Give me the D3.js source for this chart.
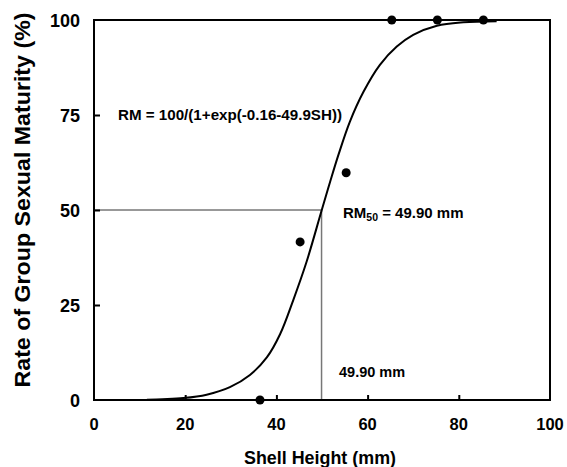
<!DOCTYPE html>
<html><head><meta charset="utf-8">
<script src="https://cdn.jsdelivr.net/npm/d3@7"></script>
<style>
html,body{margin:0;padding:0;background:#fff;}
svg{display:block;font-family:"Liberation Sans",Arial,sans-serif;font-weight:bold;}
</style></head>
<body>
<svg id="chart" width="567" height="467"></svg>
<script>
// Observed data points
const obsHeight = [36.4, 45.2, 55.3, 65.3, 75.3, 85.4];
const obsRate   = [0, 41.6, 59.8, 100, 100, 100];
// Fitted curve
const curveHeight = [11.6, 15, 19.6, 24.7, 29.8, 34.2, 37.9, 40.8, 43.7, 46.6, 49.9, 51.8, 53.6, 56.1, 59.1, 62.7, 66.4, 70.0, 75.2, 81.0, 88.3];
const curveRate   = [0.05, 0.2, 0.5, 1.4, 3.4, 6.6, 11.2, 17.3, 26.3, 36.3, 49.8, 57.5, 64.5, 73.2, 81.1, 88.2, 93.0, 96.1, 98.5, 99.4, 99.7];
const xTicks = [0, 20, 40, 60, 80, 100];
const yTicks = [0, 25, 50, 75, 100];
const rm50 = 49.9;
const equationText = "RM = 100/(1+exp(-0.16-49.9SH))";
const rm50Label = "49.90 mm";

const svg = d3.select("#chart");
const L = 94, R = 550, T = 20, B = 400;
const x = d3.scaleLinear().domain([0, 100]).range([L, R]);
const y = d3.scaleLinear().domain([0, 100]).range([B, T]);

// reference lines
svg.append("line").attr("x1", x(0)).attr("x2", x(rm50)).attr("y1", y(50)).attr("y2", y(50))
  .attr("stroke", "#333").attr("stroke-width", 1);
svg.append("line").attr("x1", x(rm50)).attr("x2", x(rm50)).attr("y1", y(50)).attr("y2", y(0))
  .attr("stroke", "#777").attr("stroke-width", 1.5);

// curve
const pts = curveHeight.map((h, i) => [h, curveRate[i]]);
svg.append("path").datum(pts)
  .attr("d", d3.line().x(d => x(d[0])).y(d => y(d[1])).curve(d3.curveCatmullRom.alpha(0.5)))
  .attr("fill", "none").attr("stroke", "#000").attr("stroke-width", 2);

// frame
svg.append("rect").attr("x", L).attr("y", T).attr("width", R - L).attr("height", B - T)
  .attr("fill", "none").attr("stroke", "#000").attr("stroke-width", 2);

// axes with inward ticks
const xAxis = d3.axisBottom(x).tickValues(xTicks.filter(v => v > 0 && v < 100)).tickSize(-5).tickFormat("");
const gx = svg.append("g").attr("transform", `translate(0,${B})`).call(xAxis);
gx.select(".domain").remove();
gx.selectAll("line").attr("stroke", "#000").attr("stroke-width", 2);
const yAxis = d3.axisLeft(y).tickValues(yTicks.filter(v => v > 0 && v < 100)).tickSize(-6).tickFormat("");
const gy = svg.append("g").attr("transform", `translate(${L},0)`).call(yAxis);
gy.select(".domain").remove();
gy.selectAll("line").attr("stroke", "#000").attr("stroke-width", 2);

// tick labels
svg.append("g").selectAll("text").data(xTicks).join("text")
  .attr("x", d => x(d)).attr("y", 430).attr("text-anchor", "middle")
  .attr("font-size", 16.5).attr("fill", "#000").text(d => d);
svg.append("g").selectAll("text").data(yTicks).join("text")
  .attr("x", 80).attr("y", d => y(d) + 6.5).attr("text-anchor", "end")
  .attr("font-size", 18).attr("fill", "#000").text(d => d);

// points
svg.append("g").selectAll("circle").data(obsHeight).join("circle")
  .attr("cx", d => x(d)).attr("cy", (d, i) => y(obsRate[i])).attr("r", 4.5).attr("fill", "#000");

// annotations
svg.append("text").attr("x", 118).attr("y", 120).attr("font-size", 14.5)
  .attr("textLength", 224).attr("lengthAdjust", "spacingAndGlyphs").text(equationText);
const t50 = svg.append("text").attr("x", 343).attr("y", 218).attr("font-size", 15);
t50.append("tspan").text("RM");
t50.append("tspan").attr("font-size", 10.5).attr("dy", 3).text("50");
t50.append("tspan").attr("dy", -3).text(" = " + rm50Label);
svg.append("text").attr("x", 339).attr("y", 377).attr("font-size", 14.5).text(rm50Label);

// axis titles
svg.append("text").attr("x", x(50) - 2).attr("y", 464).attr("text-anchor", "middle")
  .attr("font-size", 18).attr("textLength", 152).attr("lengthAdjust", "spacingAndGlyphs")
  .text("Shell Height (mm)");
svg.append("text").attr("transform", "translate(30,200) rotate(-90)").attr("text-anchor", "middle")
  .attr("font-size", 22).attr("textLength", 375).attr("lengthAdjust", "spacingAndGlyphs")
  .text("Rate of Group Sexual Maturity (%)");
</script>
</body></html>
